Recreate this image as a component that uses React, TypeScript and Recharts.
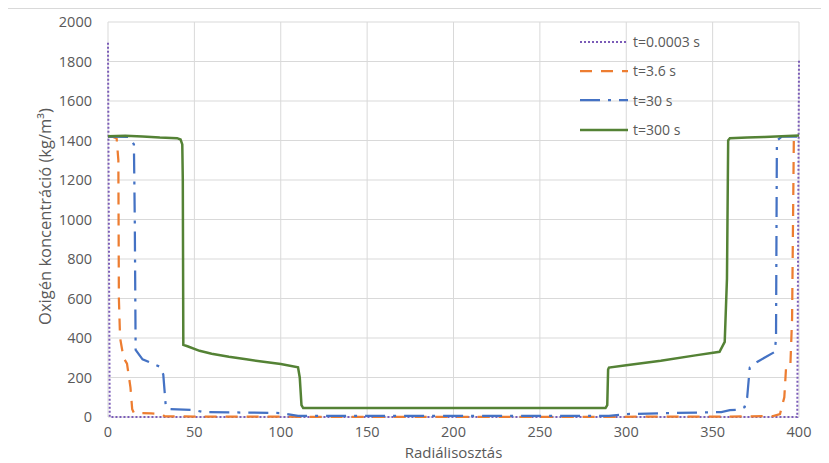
import { LineChart, Line, XAxis, YAxis, CartesianGrid, Legend } from "recharts";

type Pt = { x: number; y: number };

// radial division (x) vs oxygen concentration (y)
const t0003: Pt[] = [
  { x: 0, y: 1895 }, { x: 1, y: 0 }, { x: 200, y: 0 }, { x: 399, y: 0 }, { x: 400, y: 1810 },
];

const t36: Pt[] = [
  { x: 0, y: 1420 }, { x: 3, y: 1418 }, { x: 5, y: 1410 }, { x: 6, y: 1300 }, { x: 6.3, y: 600 },
  { x: 7, y: 400 }, { x: 9, y: 300 }, { x: 11, y: 270 }, { x: 13, y: 150 }, { x: 14, y: 40 },
  { x: 15, y: 20 }, { x: 25, y: 18 }, { x: 31, y: 15 }, { x: 33, y: 3 }, { x: 60, y: 2 },
  { x: 200, y: 0 }, { x: 360, y: 2 }, { x: 385, y: 5 }, { x: 389, y: 15 }, { x: 391.5, y: 100 },
  { x: 392.5, y: 250 }, { x: 395, y: 260 }, { x: 396, y: 500 }, { x: 397, y: 1400 },
  { x: 398, y: 1418 }, { x: 400, y: 1420 },
];

const t30: Pt[] = [
  { x: 0, y: 1420 }, { x: 12, y: 1418 }, { x: 15, y: 1380 }, { x: 15.5, y: 1000 }, { x: 16, y: 340 },
  { x: 20, y: 292 }, { x: 30, y: 255 }, { x: 32, y: 215 }, { x: 33.4, y: 60 }, { x: 35, y: 40 },
  { x: 50, y: 35 }, { x: 55, y: 25 }, { x: 100, y: 20 }, { x: 110, y: 6 }, { x: 290, y: 6 },
  { x: 300, y: 15 }, { x: 355, y: 25 }, { x: 360, y: 35 }, { x: 366, y: 38 }, { x: 368.5, y: 50 },
  { x: 370, y: 100 }, { x: 371.5, y: 250 }, { x: 376, y: 280 }, { x: 386, y: 330 },
  { x: 386.7, y: 400 }, { x: 387.2, y: 1400 }, { x: 390, y: 1420 }, { x: 400, y: 1420 },
];

const t300: Pt[] = [
  { x: 0, y: 1422 }, { x: 10, y: 1424 }, { x: 20, y: 1420 }, { x: 30, y: 1415 }, { x: 40, y: 1412 },
  { x: 42, y: 1405 }, { x: 43, y: 1380 }, { x: 43.3, y: 1200 }, { x: 43.6, y: 365 }, { x: 46, y: 358 },
  { x: 53, y: 335 }, { x: 60, y: 320 }, { x: 70, y: 305 }, { x: 80, y: 292 }, { x: 90, y: 280 },
  { x: 100, y: 268 }, { x: 110, y: 252 }, { x: 111, y: 200 }, { x: 112, y: 60 }, { x: 113, y: 45 },
  { x: 200, y: 45 }, { x: 288, y: 45 }, { x: 289, y: 60 }, { x: 289.5, y: 240 }, { x: 290, y: 250 },
  { x: 300, y: 262 }, { x: 320, y: 285 }, { x: 340, y: 312 }, { x: 354, y: 330 }, { x: 357, y: 380 },
  { x: 358.3, y: 700 }, { x: 359, y: 1400 }, { x: 360, y: 1412 }, { x: 370, y: 1415 },
  { x: 380, y: 1418 }, { x: 390, y: 1422 }, { x: 400, y: 1425 },
];

const xTicks = [0, 50, 100, 150, 200, 250, 300, 350, 400];
const yTicks = [0, 200, 400, 600, 800, 1000, 1200, 1400, 1600, 1800, 2000];

const series = [
  { name: "t=0.0003 s", data: t0003, color: "#7b5cb8", dash: "2 2", width: 2 },
  { name: "t=3.6 s", data: t36, color: "#ed7d31", dash: "12 9", width: 2.25 },
  { name: "t=30 s", data: t30, color: "#4472c4", dash: "20 8 3 8", width: 2.25 },
  { name: "t=300 s", data: t300, color: "#548235", dash: undefined, width: 2.5 },
];

const font = "'Open Sans', sans-serif";
const grey = "#595959";

// legend sits inside the plot, no background (grid shows through)
function LegendBox() {
  return (
    <div style={{ fontFamily: font, fontSize: 14, color: grey }}>
      {series.map((s) => (
        <div key={s.name} style={{ display: "flex", alignItems: "center", height: 29.3 }}>
          <svg width={50} height={6} style={{ marginRight: 3 }}>
            <line x1={0} y1={3} x2={48} y2={3} stroke={s.color} strokeWidth={s.width}
              strokeDasharray={s.dash} />
          </svg>
          <span>{s.name}</span>
        </div>
      ))}
    </div>
  );
}

export default function App() {
  return (
    <div style={{ marginLeft: -1, width: 830, height: 460, borderTop: "1px solid #d9d9d9",
      borderLeft: "1px solid #d9d9d9", background: "#fff" }}>
      <LineChart width={821} height={454} margin={{ top: 13, right: 30, bottom: 2, left: 32 }}>
        <CartesianGrid stroke="#d9d9d9" />
        <XAxis type="number" dataKey="x" domain={[0, 400]} ticks={xTicks} height={44}
          axisLine={false} tickLine={false} tickSize={6} tickMargin={4}
          tick={{ fill: grey, fontSize: 14.5, fontFamily: font }}
          label={{ value: "Radiálisosztás", position: "insideBottom", offset: 3,
            style: { fill: grey, fontSize: 15, fontFamily: font } }} />
        <YAxis type="number" domain={[0, 2000]} ticks={yTicks} width={68}
          axisLine={false} tickLine={false} tickSize={8} tickMargin={8}
          tick={{ fill: grey, fontSize: 14.5, fontFamily: font }}
          label={{ value: "Oxigén koncentráció (kg/m³)", angle: -90, position: "insideLeft",
            dy: -3, style: { textAnchor: "middle", fill: grey, fontSize: 16.5, fontFamily: font } }} />
        <Legend layout="vertical" verticalAlign="middle" align="center"
          wrapperStyle={{ left: 572, top: 18, width: 200 }} content={() => <LegendBox />} />
        {series.map((s) => (
          <Line key={s.name} data={s.data} dataKey="y" name={s.name} type="linear"
            stroke={s.color} strokeWidth={s.width} strokeDasharray={s.dash}
            dot={false} activeDot={false} isAnimationActive={false} />
        ))}
      </LineChart>
    </div>
  );
}
